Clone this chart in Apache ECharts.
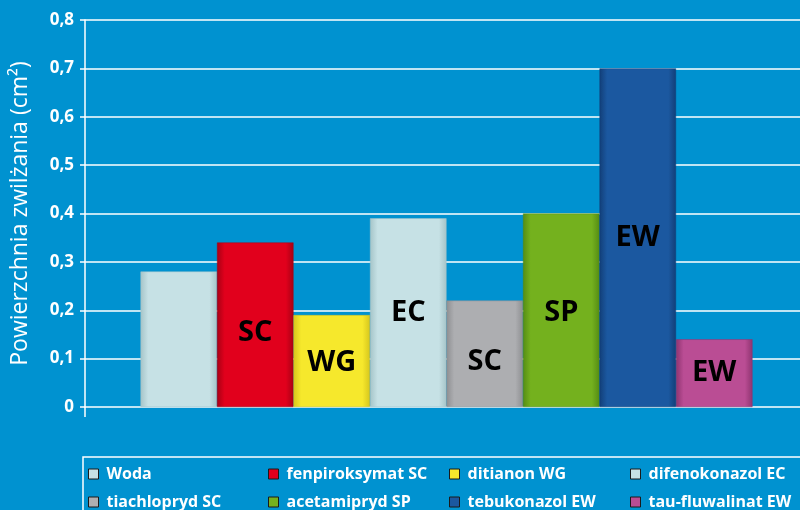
<!DOCTYPE html>
<html><head><meta charset="utf-8">
<script src="https://cdn.jsdelivr.net/npm/echarts@6/dist/echarts.min.js"></script>
<style>html,body{margin:0;padding:0;background:#0092d0;}#c{width:800px;height:510px;}</style>
</head><body><div id="c"></div>
<script>
var seriesNames = ['Woda','fenpiroksymat SC','ditianon WG','difenokonazol EC','tiachlopryd SC','acetamipryd SP','tebukonazol EW','tau-fluwalinat EW'];
var seriesValues = [0.28, 0.34, 0.19, 0.39, 0.22, 0.40, 0.70, 0.14];
var barLabels = ['', 'SC', 'WG', 'EC', 'SC', 'SP', 'EW', 'EW'];
var yTickLabels = ['0','0,1','0,2','0,3','0,4','0,5','0,6','0,7','0,8'];
var yTitle = 'Powierzchnia zwilżania (cm²)';

var colors = ['#c6e1e5','#e1001c','#f6e82c','#c6e1e5','#adaeb1','#74b11e','#1b58a0','#ba4d94'];
var edges  = ['#a5c4c8','#a80014','#d6c61c','#a5c4c8','#8e8f92','#558c14','#123f78','#8e3470'];
var labelOffsets = [[0,0],[0,8],[0,2],[0,0],[0,8],[0,2],[0,0],[0,0]];

var chart = echarts.init(document.getElementById('c'), null, {renderer:'canvas'});
var FONT = '"Open Sans", "Noto Sans", sans-serif';

function grad(c, e){
  return new echarts.graphic.LinearGradient(0,0,1,0,[
    {offset:0,color:e},{offset:0.1,color:c},{offset:0.9,color:c},{offset:1,color:e}
  ]);
}

var series = seriesNames.map(function(n,i){
  return {
    name:n, type:'bar', xAxisIndex:1, yAxisIndex:1, barWidth:76.5, barGap:'0%',
    data:[seriesValues[i]],
    itemStyle:{color:grad(colors[i],edges[i]), borderColor:edges[i], borderWidth:0.5},
    label:{show: barLabels[i] !== '', position:'inside', offset:labelOffsets[i],
      formatter: barLabels[i], color:'#000', fontSize:29, fontWeight:'bold', fontFamily:FONT},
    emphasis:{disabled:true}
  };
});

var colLefts = [88, 268, 449, 630];
var legends = colLefts.map(function(x,k){
  return {
    orient:'vertical', left:x, top:464, height:60, padding:0, itemWidth:10, itemHeight:10, itemGap:8,
    selectedMode:false,
    data:[seriesNames[k], seriesNames[k+4]].map(function(n){
      var idx = seriesNames.indexOf(n);
      return {name:n, icon:'rect', itemStyle:{color:colors[idx], borderColor:'#1a1a1a', borderWidth:1}};
    }),
    textStyle:{color:'#fff', fontSize:16, fontWeight:'bold', fontFamily:FONT, padding:[0,0,0,3], lineHeight:20}
  };
});

chart.setOption({
  backgroundColor:'#0092d0',
  animation:false,
  grid:[{left:85, right:0, top:20, bottom:103},{left:93, right:0, top:20, bottom:103}],
  xAxis:[
    {gridIndex:0, type:'category', data:[''], show:false},
    {gridIndex:1, type:'category', data:[''], show:false}
  ],
  yAxis:[{gridIndex:0, type:'value', min:0, max:0.8, interval:0.1,
    name:yTitle, nameLocation:'middle', nameGap:53, nameRotate:90,
    nameTextStyle:{color:'#fff', fontSize:23, fontFamily:FONT},
    axisLine:{show:true, lineStyle:{color:'#fff', width:1.5}},
    axisTick:{show:true, length:5, lineStyle:{color:'#fff', width:1.5}},
    axisLabel:{color:'#fff', fontSize:17, fontWeight:'bold', fontFamily:FONT, margin:11,
      formatter:function(v){ return yTickLabels[Math.round(v*10)]; }},
    splitLine:{show:true, lineStyle:{color:'#fff', width:1.5}}
  },{gridIndex:1, type:'value', min:0, max:0.8, interval:0.1, show:false, splitLine:{show:false}}],
  legend:legends,
  graphic:[
    {type:'rect', shape:{x:83, y:457, width:800, height:100}, style:{fill:'none', stroke:'#fff', lineWidth:1.5}, silent:true},
    {type:'line', shape:{x1:85, y1:407, x2:85, y2:417}, style:{stroke:'#fff', lineWidth:1.5}, silent:true}
  ],
  series:series
});
</script></body></html>
